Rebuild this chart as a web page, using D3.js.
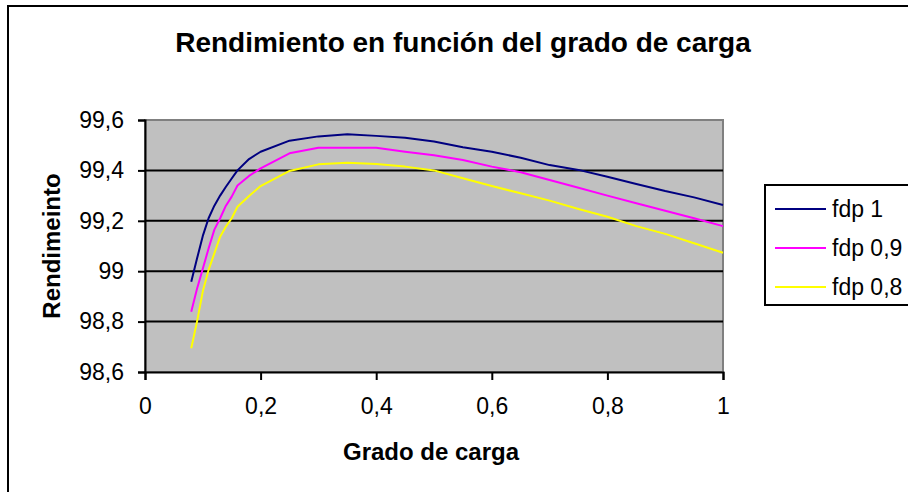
<!DOCTYPE html>
<html>
<head>
<meta charset="utf-8">
<script src="https://cdn.jsdelivr.net/npm/d3@7"></script>
<style>
  html, body { margin: 0; padding: 0; background: #fff; }
  svg { display: block; font-family: "Liberation Sans", Arial, sans-serif; }
</style>
</head>
<body>
<svg id="chart" width="908" height="492"></svg>
<script>
// Load factor (grado de carga)
const carga = [0.08, 0.09, 0.10, 0.11, 0.12, 0.13, 0.14, 0.15, 0.16, 0.18, 0.20,
               0.25, 0.30, 0.35, 0.40, 0.45, 0.50, 0.55, 0.60, 0.65, 0.70,
               0.75, 0.80, 0.85, 0.90, 0.95, 1.00];

// Efficiency (%) for each power factor
const fdp1  = [98.958, 99.05, 99.14, 99.21, 99.26, 99.30, 99.335, 99.368, 99.40, 99.445, 99.474,
               99.518, 99.535, 99.543, 99.537, 99.53, 99.515, 99.492, 99.474, 99.45, 99.421,
               99.402, 99.375, 99.346, 99.318, 99.293, 99.263];
const fdp09 = [98.839, 98.93, 99.01, 99.09, 99.165, 99.21, 99.26, 99.296, 99.34, 99.378, 99.408,
               99.468, 99.49, 99.49, 99.49, 99.474, 99.46, 99.441, 99.415, 99.393, 99.362,
               99.331, 99.30, 99.27, 99.24, 99.21, 99.179];
const fdp08 = [98.694, 98.80, 98.92, 99.005, 99.071, 99.137, 99.177, 99.21, 99.256, 99.298, 99.338,
               99.398, 99.424, 99.43, 99.425, 99.415, 99.40, 99.369, 99.338, 99.309, 99.28,
               99.247, 99.216, 99.179, 99.148, 99.111, 99.073];

const seriesNames = ["fdp 1", "fdp 0,9", "fdp 0,8"];
const seriesColors = ["#000080", "#ff00ff", "#ffff00"];

const xTicks = [0, 0.2, 0.4, 0.6, 0.8, 1];
const yTicks = [98.6, 98.8, 99.0, 99.2, 99.4, 99.6];

const titleText = "Rendimiento en función del grado de carga";
const xTitle = "Grado de carga";
const yTitle = "Rendimeinto";

const svg = d3.select("#chart");
const plot = { left: 145, right: 723, top: 120, bottom: 372 };

const x = d3.scaleLinear().domain([0, 1]).range([plot.left, plot.right]);
const y = d3.scaleLinear().domain([98.6, 99.6]).range([plot.bottom, plot.top]);

const fmt = v => {
  const r = Math.round(v * 10) / 10;
  return (Number.isInteger(r) ? String(r) : r.toFixed(1)).replace(".", ",");
};

// Chart frame
svg.append("rect")
  .attr("x", 8).attr("y", 6).attr("width", 920).attr("height", 500)
  .attr("fill", "#fff").attr("stroke", "#000").attr("stroke-width", 2);

// Title
svg.append("text")
  .attr("x", 463).attr("y", 52)
  .attr("text-anchor", "middle")
  .attr("font-size", 28).attr("font-weight", "bold")
  .text(titleText);

// Plot background
svg.append("rect")
  .attr("x", plot.left).attr("y", plot.top)
  .attr("width", plot.right - plot.left).attr("height", plot.bottom - plot.top)
  .attr("fill", "#c0c0c0").attr("stroke", "#808080").attr("stroke-width", 2);

// Horizontal gridlines
svg.append("g")
  .selectAll("line")
  .data(yTicks.filter(t => t > 98.6 && t < 99.6))
  .join("line")
  .attr("x1", plot.left).attr("x2", plot.right)
  .attr("y1", d => y(d)).attr("y2", d => y(d))
  .attr("stroke", "#000").attr("stroke-width", 2);

// Axes
const yAxis = svg.append("g")
  .attr("transform", `translate(${plot.left},0)`)
  .call(d3.axisLeft(y).tickValues(yTicks).tickFormat(fmt).tickSize(7).tickPadding(14));
const xAxis = svg.append("g")
  .attr("transform", `translate(0,${plot.bottom})`)
  .call(d3.axisBottom(x).tickValues(xTicks).tickFormat(fmt).tickSize(8).tickPadding(18));

[yAxis, xAxis].forEach(g => {
  g.select(".domain").attr("stroke", "#000").attr("stroke-width", 2);
  g.selectAll(".tick line").attr("stroke", "#000").attr("stroke-width", 2);
  g.selectAll(".tick text")
    .attr("fill", "#000")
    .attr("font-size", 23)
    .attr("font-family", "'Liberation Sans', Arial, sans-serif");
});

// Axis titles
svg.append("text")
  .attr("x", 431).attr("y", 460)
  .attr("text-anchor", "middle")
  .attr("font-size", 24).attr("font-weight", "bold")
  .text(xTitle);
svg.append("text")
  .attr("transform", "translate(60,246) rotate(-90)")
  .attr("text-anchor", "middle")
  .attr("font-size", 24).attr("font-weight", "bold")
  .text(yTitle);

// Series lines
const series = [fdp1, fdp09, fdp08];
const line = d3.line().x(d => x(d[0])).y(d => y(d[1]));
const linesG = svg.append("g");
series.forEach((vals, i) => {
  linesG.append("path")
    .datum(carga.map((c, j) => [c, vals[j]]))
    .attr("d", line)
    .attr("fill", "none")
    .attr("stroke", seriesColors[i])
    .attr("stroke-width", 2)
    .attr("stroke-linejoin", "round");
});

// Legend
const legend = svg.append("g");
legend.append("rect")
  .attr("x", 765).attr("y", 185).attr("width", 160).attr("height", 120)
  .attr("fill", "#fff").attr("stroke", "#000").attr("stroke-width", 2);
seriesNames.forEach((name, i) => {
  const ly = 209 + i * 39;
  legend.append("line")
    .attr("x1", 775).attr("x2", 826)
    .attr("y1", ly).attr("y2", ly)
    .attr("stroke", seriesColors[i]).attr("stroke-width", 2);
  legend.append("text")
    .attr("x", 832).attr("y", ly)
    .attr("dy", "0.35em")
    .attr("font-size", 23)
    .text(name);
});
</script>
</body>
</html>
